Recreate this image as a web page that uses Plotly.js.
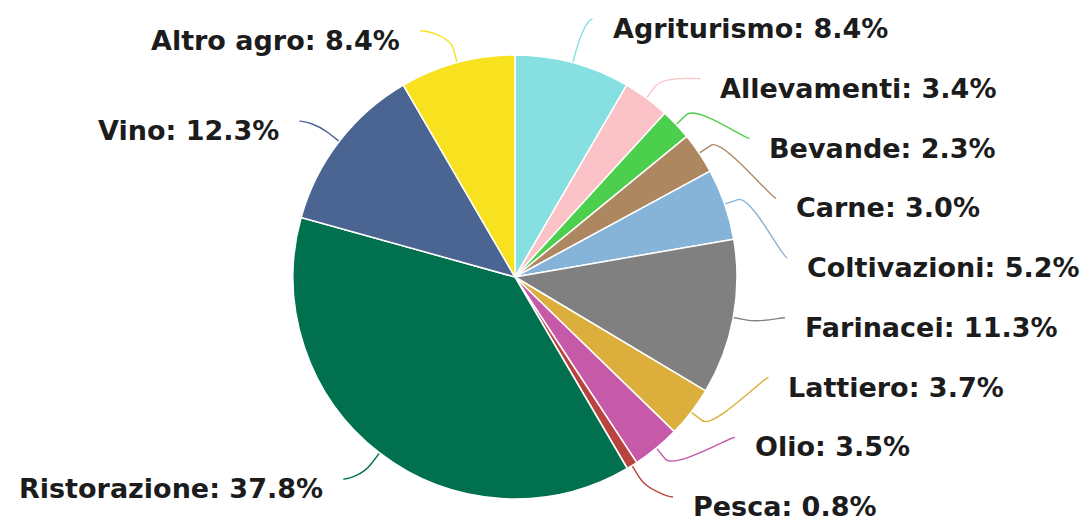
<!DOCTYPE html>
<html><head><meta charset="utf-8">
<script src="https://cdn.plot.ly/plotly-3.0.1.min.js"></script>
<style>html,body{margin:0;padding:0;background:#fff}</style>
</head>
<body>
<div id="chart" style="width:1090px;height:521px"></div>
<script>
// ---- data ----
const categories = ["Agriturismo","Allevamenti","Bevande","Carne","Coltivazioni","Farinacei","Lattiero","Olio","Pesca","Ristorazione","Vino","Altro agro"];
const shares = [8.4, 3.4, 2.3, 3.0, 5.2, 11.3, 3.7, 3.5, 0.8, 37.8, 12.3, 8.4];
const sliceColors = ["#86dfe0","#fbc3c7","#4ccf4c","#ac8760","#86b3d8","#808080","#dcae3c","#c65aa8","#b8433f","#00704e","#4a6591","#f8e11f"];

// ---- geometry (pixels) ----
const W = 1090, H = 521;
const CX = 515, CY = 277, R = 222;
const RNAT = 255, RX_RIGHT = 268, RX_LEFT = 262;
const TOPB = 19, BOTB = 497;
const px = x => x / W, py = y => 1 - y / H;

const total = shares.reduce((a, b) => a + b, 0);
let cum = 0;
const mids = shares.map(v => { const m = (cum + v / 2) / total * 2 * Math.PI; cum += v; return m; });

// natural label anchors
const items = categories.map((c, i) => ({
  i, side: Math.sin(mids[i]) >= 0 ? 1 : -1,
  y: CY - RNAT * Math.cos(mids[i])
}));

function distribute(list) {
  list.sort((a, b) => a.y - b.y);
  const n = list.length;
  const S = (BOTB - TOPB) / 8;
  for (let k = 0; k < n; k++) {
    let y = Math.max(list[k].y, TOPB);
    if (k > 0) y = Math.max(y, list[k - 1].y + S);
    list[k].y = y;
  }
  for (let k = n - 1; k >= 0; k--) {
    let y = Math.min(list[k].y, BOTB - (n - 1 - k) * S);
    if (k < n - 1) y = Math.min(y, list[k + 1].y - S);
    list[k].y = y;
  }
}
distribute(items.filter(d => d.side === 1));
distribute(items.filter(d => d.side === -1));

const shapes = [], annotations = [];
items.forEach(d => {
  const m = mids[d.i];
  const dy = d.y - CY;
  const RX = d.side === 1 ? RX_RIGHT : RX_LEFT;
  const ex = CX + d.side * Math.sqrt(Math.max(0, RX * RX - dy * dy));
  const ey = d.y;
  const T = [CX + R * Math.sin(m), CY - R * Math.cos(m)];
  const B = [CX + (R + 14) * Math.sin(m), CY - (R + 14) * Math.cos(m)];
  const C2 = [2 * B[0] - T[0], 2 * B[1] - T[1]];
  const P = (x, y) => px(x).toFixed(5) + "," + py(y).toFixed(5);
  const path = "M" + P(ex + d.side * 5, ey) + " C" + P(ex, ey) + " " + P(C2[0], C2[1]) + " " + P(B[0], B[1]) + " L" + P(T[0], T[1]);
  shapes.push({type: "path", xref: "paper", yref: "paper", path: path, layer: "below",
               line: {color: sliceColors[d.i], width: 1.4}});
  annotations.push({
    xref: "paper", yref: "paper",
    x: px(ex + d.side * 23), y: py(ey + 9.5),
    xanchor: d.side === 1 ? "left" : "right", yanchor: "middle",
    showarrow: false,
    text: categories[d.i] + ": " + shares[d.i].toFixed(1) + "%",
    font: {family: "DejaVu Sans", size: 27, color: "#1c1c1c", weight: "bold"}
  });
});

const trace = {
  type: "pie",
  labels: categories,
  values: shares,
  sort: false,
  direction: "clockwise",
  rotation: 0,
  textinfo: "none",
  hoverinfo: "label+percent",
  marker: {colors: sliceColors, line: {color: "#ffffff", width: 1.5}},
  domain: {x: [px(CX - R), px(CX + R)], y: [py(CY + R), py(CY - R)]}
};

Plotly.newPlot("chart", [trace], {
  width: W, height: H,
  margin: {l: 0, r: 0, t: 0, b: 0},
  showlegend: false,
  paper_bgcolor: "#ffffff",
  shapes: shapes,
  annotations: annotations
}, {displayModeBar: false, staticPlot: true});
</script>
</body></html>
